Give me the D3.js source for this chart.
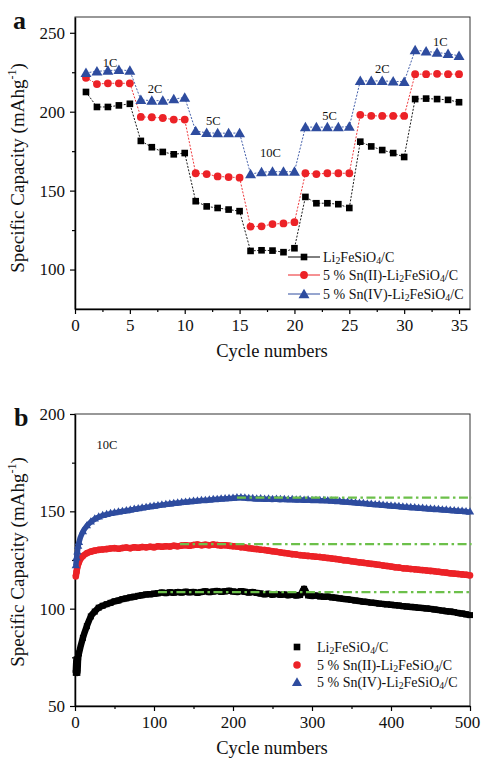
<!DOCTYPE html>
<html><head><meta charset="utf-8">
<script src="https://cdn.jsdelivr.net/npm/d3@7/dist/d3.min.js"></script>
<style>
body{margin:0;background:#fff}
svg{display:block}
text{font-family:"Liberation Serif","Times New Roman",serif;fill:#111}
</style>
</head><body>
<svg id="c" width="481" height="762"></svg>
<script>
// ---------- Panel a: rate capability ----------
const cyclesA = [1,2,3,4,5,6,7,8,9,10,11,12,13,14,15,16,17,18,19,20,21,22,23,24,25,26,27,28,29,30,31,32,33,34,35];
const rateLi   = [212.5,203,203,204,205, 181.5,177.5,174.5,173,173.8, 143.3,140,139,138,137, 111.8,112.2,112,111,113.5, 146,142,142,141.4,139, 181,178,175.7,173.8,171.3, 208,208.3,208,207.5,206];
const rateSn2  = [221.5,217.5,218,218,218, 196.7,196.5,196,195,195, 161,160.5,159,158.6,158.2, 127.2,127.4,128.8,129.2,130, 161,160.5,161,161,161, 198,197.4,197.3,197.3,197.3, 223.8,223.8,224,223.8,223.8];
const rateSn4  = [224.6,225.6,226,226.5,226, 207.5,207,207,208,209, 187.8,186.6,186.4,186.4,186.5, 160.5,161.7,162,162,162, 190.3,190.2,190.2,190.2,190.5, 219.5,219.5,219.5,219.2,219, 239,238.2,237.5,236.7,235.4];
const rateLabels = ["1C","2C","5C","10C","5C","2C","1C"];
const rateLabelPos = [[3.2,231],[7.3,214.5],[12.6,194.5],[17.8,174],[23.2,197.5],[28,227.5],[33.3,244.5]];

// ---------- Panel b: cycling at 10C ----------
const cyclesB = [1,2,3,4,5,10,15,20,25,30,35,40,45,50,55,60,65,70,75,80,85,90,95,100,105,110,115,120,125,130,135,140,145,150,155,160,165,170,175,180,185,190,195,200,205,210,215,220,225,230,235,240,245,250,255,260,265,270,275,280,285,290,295,300,305,310,315,320,325,330,335,340,345,350,355,360,365,370,375,380,385,390,395,400,405,410,415,420,425,430,435,440,445,450,455,460,465,470,475,480,485,490,495,500];
const cycLi = [67,74,67,75,77, 85,91,96,98.5,100.5,101.5,102.3,103,103.8,104.2,104.9,105.3,105.8,106.1,106.6,106.9,107.3,107.4,107.7,107.9,108.3,108.0,108.4,108.2,108.5,108.3,108.7,108.4,108.6,108.2,108.6,108.9,108.5,108.8,109.1,108.7,108.9,109.2,108.8,108.6,109.0,108.7,108.3,108.5,108.1,107.8,107.4,107.6,107.2,107.5,107.1,107.3,106.9,107.2,106.8,107.0,110.2,106.8,106.5,106.7,106.3,106.1,106.2,105.8,105.6,105.3,105.0,104.8,104.5,104.2,103.9,103.6,103.4,103.1,102.9,102.6,102.4,102.2,102.0,101.8,101.6,101.3,101.1,100.9,100.7,100.5,100.3,100.1,99.9,99.6,99.3,99.0,98.7,98.5,98.2,97.8,97.5,97.1,96.7];
const cycSn2 = [116.5,119,121.5,123,124, 127,128.5,129.3,129.8,130.2,130.4,130.6,130.9,131.1,130.8,131.2,131.4,131.1,131.5,131.3,131.7,131.5,131.8,131.6,132.0,131.8,132.1,131.9,132.3,132.1,132.4,132.6,132.3,132.7,132.9,132.6,132.8,132.6,132.9,132.7,132.5,132.6,132.3,132.1,131.9,131.6,131.4,131.1,130.8,130.6,130.3,130.1,129.8,129.5,129.2,128.9,128.6,128.3,128.0,127.8,127.5,127.3,127.1,126.9,126.7,126.5,126.3,126.0,125.8,125.5,125.2,124.9,124.7,124.4,124.1,123.8,123.6,123.3,123.0,122.8,122.5,122.2,121.9,121.6,121.3,121.1,120.8,120.6,120.4,120.2,120.0,119.8,119.6,119.4,119.2,119.0,118.7,118.5,118.2,118.0,117.8,117.6,117.4,117.1];
const cycSn4 = [122,126,129,132,134, 139.5,142.5,144.5,146,147,147.8,148.3,148.8,149.2,149.6,149.9,150.3,150.6,151.0,151.3,151.7,152.0,152.3,152.6,152.9,153.2,153.5,153.7,154.0,154.2,154.5,154.7,154.9,155.1,155.3,155.5,155.6,155.8,156.0,156.1,156.3,156.4,156.6,156.7,156.9,157.0,156.8,156.6,156.5,156.3,156.4,156.2,156.3,156.1,156.2,156.0,156.1,155.9,156.0,155.8,155.9,155.7,155.8,155.6,155.6,155.5,155.5,155.4,155.3,155.1,155.0,154.8,154.7,154.5,154.3,154.1,154.0,153.8,153.6,153.4,153.3,153.1,152.9,152.7,152.6,152.4,152.2,152.1,151.9,151.8,151.6,151.5,151.3,151.2,151.0,150.9,150.7,150.6,150.4,150.3,150.1,150.0,149.8,149.6];
// reference (dash-dot) levels: [start cycle, end cycle, value]
const refLi  = [105, 502, 108.5];
const refSn2 = [133, 502, 133.2];
const refSn4 = [205, 502, 157];

const seriesNames = ["Li2FeSiO4/C","5 % Sn(II)-Li2FeSiO4/C","5 % Sn(IV)-Li2FeSiO4/C"];
const colors = ["#000000","#ec2227","#2e4c9f"];
const green = "#6cc04a";

const yTicksA = [100,150,200,250], yMinorA=[125,175,225];
const xTicksA = [0,5,10,15,20,25,30,35], xMinorA=[2.5,7.5,12.5,17.5,22.5,27.5,32.5];
const yTicksB = [50,100,150,200], yMinorB=[75,125,175];
const xTicksB = [0,100,200,300,400,500], xMinorB=[50,150,250,350,450];

const FONT = "'Liberation Serif','Times New Roman',serif";
const svg = d3.select("#c");

function frame(x, y, yT, yM, xT, xM){
  const [x0,x1] = x.range(), [y0,y1] = y.range();
  svg.append("rect").attr("x",x0).attr("y",y1).attr("width",x1-x0).attr("height",y0-y1)
     .attr("fill","none").attr("stroke","#333").attr("stroke-width",1);
  const gy = svg.append("g").attr("transform",`translate(${x0},0)`)
     .call(d3.axisLeft(y).tickValues(yT).tickSize(5).tickPadding(5).tickSizeOuter(0));
  const gym = svg.append("g").attr("transform",`translate(${x0},0)`)
     .call(d3.axisLeft(y).tickValues(yM).tickSize(3).tickFormat("").tickSizeOuter(0));
  gym.select(".domain").remove(); gym.selectAll("text").remove();
  const gx = svg.append("g").attr("transform",`translate(0,${y0})`)
     .call(d3.axisBottom(x).tickValues(xT).tickSize(5).tickPadding(5).tickSizeOuter(0));
  const gxm = svg.append("g").attr("transform",`translate(0,${y0})`)
     .call(d3.axisBottom(x).tickValues(xM).tickSize(3).tickFormat("").tickSizeOuter(0));
  gxm.select(".domain").remove(); gxm.selectAll("text").remove();
  svg.selectAll(".domain").attr("stroke","#000").attr("stroke-width",1.5);
  svg.selectAll(".tick line").attr("stroke","#000").attr("stroke-width",1.2);
  [gy,gx].forEach(g=>{
    g.attr("font-family",FONT).attr("font-size",17);
    g.selectAll("text").attr("font-family",FONT).attr("font-size",17).attr("fill","#111");
  });
  // keep the last x label inside the page
  gx.selectAll(".tick text").filter(d=>x(d) + 13 > 481).attr("dx", -3);
}

function formula(sel, name, size){
  // digits directly following a letter are drawn small (as in "Li2FeSiO4")
  const parts = name.split(/(?<=[A-Za-z])(\d)/);
  let down = false;
  parts.forEach((p,k)=>{
    if(p==="") return;
    const isSub = (k % 2 === 1);
    const ts = sel.append("tspan").text(p);
    if(isSub){ ts.attr("font-size",size*0.7).attr("dy",2); down = true; }
    else if(down){ ts.attr("dy",-2); down = false; }
  });
}

const sym = [d3.symbolSquare, d3.symbolCircle, d3.symbolTriangle];

// ===== Panel a =====
const xA = d3.scaleLinear().domain([0,36]).range([75,470]);
const yA = d3.scaleLinear().domain([75,260]).range([309,17]);
frame(xA,yA,yTicksA,yMinorA,xTicksA,xMinorA);

const dataA = [rateLi, rateSn2, rateSn4];
const markSizeA = [44, 48, 52];
dataA.forEach((vals,i)=>{
  const pts = cyclesA.map((c,j)=>[c,vals[j]]);
  svg.append("path").attr("d", d3.line().x(d=>xA(d[0])).y(d=>yA(d[1]))(pts))
    .attr("fill","none").attr("stroke",colors[i]).attr("stroke-width",0.9)
    .attr("stroke-dasharray","2,1.5");
  svg.append("g").selectAll("path").data(pts).join("path")
    .attr("transform",d=>`translate(${xA(d[0])},${yA(d[1]) + (i===2?1:0)})`)
    .attr("d", d3.symbol().type(sym[i]).size(markSizeA[i])).attr("fill",colors[i]);
});
rateLabels.forEach((t,i)=>{
  svg.append("text").attr("x",xA(rateLabelPos[i][0])).attr("y",yA(rateLabelPos[i][1]))
    .attr("text-anchor","middle").attr("dy","0.35em").attr("font-family",FONT).attr("font-size",12.5).text(t);
});
// legend a
const legA = {x:288, y:[257,275,294]};
seriesNames.forEach((n,i)=>{
  const yy = legA.y[i];
  svg.append("line").attr("x1",legA.x).attr("x2",legA.x+32).attr("y1",yy).attr("y2",yy)
    .attr("stroke",colors[i]).attr("stroke-width",1);
  svg.append("path").attr("transform",`translate(${legA.x+16},${yy+(i===2?1:0)})`)
    .attr("d",d3.symbol().type(sym[i]).size(markSizeA[i])).attr("fill",colors[i]);
  const t = svg.append("text").attr("x",legA.x+35).attr("y",yy).attr("dy","0.35em")
    .attr("font-family",FONT).attr("font-size",14);
  formula(t,n,14);
});
svg.append("text").attr("x",272).attr("y",357).attr("text-anchor","middle").attr("font-family",FONT).attr("font-size",18.5).text("Cycle numbers");
function ylabel(cy){
  const t = svg.append("text").attr("transform",`translate(24,${cy}) rotate(-90)`).attr("text-anchor","middle")
    .attr("font-family",FONT).attr("font-size",19);
  t.append("tspan").text("Specific Capacity (mAhg");
  t.append("tspan").text("-1").attr("font-size",12).attr("dy",-8);
  t.append("tspan").text(")").attr("dy",8);
}
ylabel(168);
svg.append("text").attr("x",13).attr("y",29).attr("font-family",FONT).attr("font-size",26).attr("font-weight","bold").text("a");

// ===== Panel b =====
const xB = d3.scaleLinear().domain([0,500]).range([75,470]);
const yB = d3.scaleLinear().domain([50,200]).range([706,414]);
frame(xB,yB,yTicksB,yMinorB,xTicksB,xMinorB);

const dataB = [cycLi, cycSn2, cycSn4];
const markSizeB = [36, 34, 30];
const bandW = [6.5, 6.5, 5.5];
dataB.forEach((vals,i)=>{
  const pts = cyclesB.map((c,j)=>[c,vals[j]]);
  svg.append("path").attr("d", d3.line().curve(d3.curveMonotoneX).x(d=>xB(d[0])).y(d=>yB(d[1]))(pts))
    .attr("fill","none").attr("stroke",colors[i]).attr("stroke-width", bandW[i]);
  svg.append("g").selectAll("path").data(pts).join("path")
    .attr("transform",d=>`translate(${xB(d[0])},${yB(d[1])})`)
    .attr("d", d3.symbol().type(sym[i]).size(markSizeB[i])).attr("fill",colors[i]);
});
[refLi, refSn2, refSn4].forEach(r=>{
  svg.append("line").attr("x1",xB(r[0])).attr("x2",xB(r[1])).attr("y1",yB(r[2])).attr("y2",yB(r[2]))
    .attr("stroke",green).attr("stroke-width",2.2).attr("stroke-dasharray","9,3.5,2.5,3.5");
});
svg.append("text").attr("x",107).attr("y",445).attr("text-anchor","middle").attr("dy","0.35em").attr("font-family",FONT).attr("font-size",12.5).text("10C");
const legB = {x:297, y:[647,665,682]};
seriesNames.forEach((n,i)=>{
  const yy = legB.y[i];
  svg.append("path").attr("transform",`translate(${legB.x},${yy+(i===2?1:0)})`)
    .attr("d",d3.symbol().type(sym[i]).size(44)).attr("fill",colors[i]);
  const t = svg.append("text").attr("x",legB.x+20).attr("y",yy).attr("dy","0.35em")
    .attr("font-family",FONT).attr("font-size",14);
  formula(t,n,14);
});
svg.append("text").attr("x",272).attr("y",754).attr("text-anchor","middle").attr("font-family",FONT).attr("font-size",18.5).text("Cycle numbers");
ylabel(562);
svg.append("text").attr("x",14).attr("y",426).attr("font-family",FONT).attr("font-size",26).attr("font-weight","bold").text("b");
</script>
</body></html>
